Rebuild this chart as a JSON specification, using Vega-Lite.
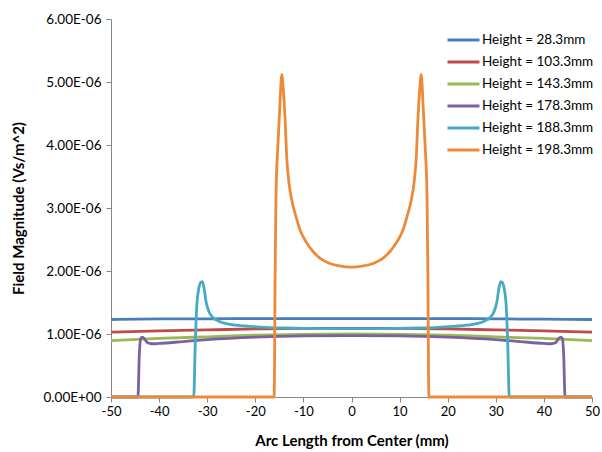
{
  "$schema": "https://vega.github.io/schema/vega-lite/v6.json",
  "width": 481,
  "height": 378,
  "autosize": {"type": "none"},
  "padding": {"left": 111, "top": 19, "right": 10, "bottom": 55},
  "background": "white",
  "config": {"view": {"stroke": null}, "font": "Lato"},
  "data": {"values": [
    {"s": "Height = 28.3mm", "x": -50, "y": 1.23e-6},
    {"s": "Height = 28.3mm", "x": -40, "y": 1.24e-6},
    {"s": "Height = 28.3mm", "x": -30, "y": 1.24e-6},
    {"s": "Height = 28.3mm", "x": -20, "y": 1.245e-6},
    {"s": "Height = 28.3mm", "x": -10, "y": 1.245e-6},
    {"s": "Height = 28.3mm", "x": 0, "y": 1.245e-6},
    {"s": "Height = 28.3mm", "x": 10, "y": 1.245e-6},
    {"s": "Height = 28.3mm", "x": 20, "y": 1.245e-6},
    {"s": "Height = 28.3mm", "x": 30, "y": 1.24e-6},
    {"s": "Height = 28.3mm", "x": 40, "y": 1.235e-6},
    {"s": "Height = 28.3mm", "x": 50, "y": 1.23e-6},

    {"s": "Height = 103.3mm", "x": -50, "y": 1.03e-6},
    {"s": "Height = 103.3mm", "x": -40, "y": 1.05e-6},
    {"s": "Height = 103.3mm", "x": -30, "y": 1.065e-6},
    {"s": "Height = 103.3mm", "x": -20, "y": 1.08e-6},
    {"s": "Height = 103.3mm", "x": -10, "y": 1.09e-6},
    {"s": "Height = 103.3mm", "x": 0, "y": 1.09e-6},
    {"s": "Height = 103.3mm", "x": 10, "y": 1.09e-6},
    {"s": "Height = 103.3mm", "x": 20, "y": 1.08e-6},
    {"s": "Height = 103.3mm", "x": 30, "y": 1.065e-6},
    {"s": "Height = 103.3mm", "x": 40, "y": 1.05e-6},
    {"s": "Height = 103.3mm", "x": 50, "y": 1.03e-6},

    {"s": "Height = 143.3mm", "x": -50, "y": 0.895e-6},
    {"s": "Height = 143.3mm", "x": -40, "y": 0.93e-6},
    {"s": "Height = 143.3mm", "x": -30, "y": 0.955e-6},
    {"s": "Height = 143.3mm", "x": -20, "y": 0.98e-6},
    {"s": "Height = 143.3mm", "x": -10, "y": 0.995e-6},
    {"s": "Height = 143.3mm", "x": 0, "y": 1.0e-6},
    {"s": "Height = 143.3mm", "x": 10, "y": 0.995e-6},
    {"s": "Height = 143.3mm", "x": 20, "y": 0.98e-6},
    {"s": "Height = 143.3mm", "x": 30, "y": 0.955e-6},
    {"s": "Height = 143.3mm", "x": 40, "y": 0.93e-6},
    {"s": "Height = 143.3mm", "x": 50, "y": 0.895e-6},

    {"s": "Height = 178.3mm", "x": -50, "y": 0},
    {"s": "Height = 178.3mm", "x": -44.4, "y": 0},
    {"s": "Height = 178.3mm", "x": -44.1, "y": 0.7e-6},
    {"s": "Height = 178.3mm", "x": -43.8, "y": 0.93e-6},
    {"s": "Height = 178.3mm", "x": -43.5, "y": 0.95e-6},
    {"s": "Height = 178.3mm", "x": -43.0, "y": 0.92e-6},
    {"s": "Height = 178.3mm", "x": -42.4, "y": 0.86e-6},
    {"s": "Height = 178.3mm", "x": -41.5, "y": 0.845e-6},
    {"s": "Height = 178.3mm", "x": -40, "y": 0.85e-6},
    {"s": "Height = 178.3mm", "x": -35, "y": 0.88e-6},
    {"s": "Height = 178.3mm", "x": -30, "y": 0.91e-6},
    {"s": "Height = 178.3mm", "x": -20, "y": 0.95e-6},
    {"s": "Height = 178.3mm", "x": -10, "y": 0.97e-6},
    {"s": "Height = 178.3mm", "x": 0, "y": 0.975e-6},
    {"s": "Height = 178.3mm", "x": 10, "y": 0.97e-6},
    {"s": "Height = 178.3mm", "x": 20, "y": 0.95e-6},
    {"s": "Height = 178.3mm", "x": 30, "y": 0.91e-6},
    {"s": "Height = 178.3mm", "x": 35, "y": 0.88e-6},
    {"s": "Height = 178.3mm", "x": 40, "y": 0.85e-6},
    {"s": "Height = 178.3mm", "x": 41.5, "y": 0.845e-6},
    {"s": "Height = 178.3mm", "x": 42.4, "y": 0.86e-6},
    {"s": "Height = 178.3mm", "x": 43.0, "y": 0.92e-6},
    {"s": "Height = 178.3mm", "x": 43.5, "y": 0.95e-6},
    {"s": "Height = 178.3mm", "x": 43.8, "y": 0.93e-6},
    {"s": "Height = 178.3mm", "x": 44.1, "y": 0.7e-6},
    {"s": "Height = 178.3mm", "x": 44.4, "y": 0},
    {"s": "Height = 178.3mm", "x": 50, "y": 0},

    {"s": "Height = 188.3mm", "x": -50, "y": 0},
    {"s": "Height = 188.3mm", "x": -32.8, "y": 0},
    {"s": "Height = 188.3mm", "x": -32.5, "y": 0.8e-6},
    {"s": "Height = 188.3mm", "x": -32.2, "y": 1.4e-6},
    {"s": "Height = 188.3mm", "x": -31.8, "y": 1.7e-6},
    {"s": "Height = 188.3mm", "x": -31.3, "y": 1.82e-6},
    {"s": "Height = 188.3mm", "x": -31.0, "y": 1.83e-6},
    {"s": "Height = 188.3mm", "x": -30.6, "y": 1.7e-6},
    {"s": "Height = 188.3mm", "x": -30.2, "y": 1.5e-6},
    {"s": "Height = 188.3mm", "x": -29.6, "y": 1.35e-6},
    {"s": "Height = 188.3mm", "x": -28.8, "y": 1.26e-6},
    {"s": "Height = 188.3mm", "x": -27.5, "y": 1.2e-6},
    {"s": "Height = 188.3mm", "x": -26, "y": 1.165e-6},
    {"s": "Height = 188.3mm", "x": -24, "y": 1.14e-6},
    {"s": "Height = 188.3mm", "x": -21, "y": 1.12e-6},
    {"s": "Height = 188.3mm", "x": -18, "y": 1.105e-6},
    {"s": "Height = 188.3mm", "x": -14, "y": 1.095e-6},
    {"s": "Height = 188.3mm", "x": -10, "y": 1.09e-6},
    {"s": "Height = 188.3mm", "x": -5, "y": 1.085e-6},
    {"s": "Height = 188.3mm", "x": 0, "y": 1.085e-6},
    {"s": "Height = 188.3mm", "x": 5, "y": 1.085e-6},
    {"s": "Height = 188.3mm", "x": 10, "y": 1.09e-6},
    {"s": "Height = 188.3mm", "x": 14, "y": 1.095e-6},
    {"s": "Height = 188.3mm", "x": 18, "y": 1.105e-6},
    {"s": "Height = 188.3mm", "x": 21, "y": 1.12e-6},
    {"s": "Height = 188.3mm", "x": 24, "y": 1.14e-6},
    {"s": "Height = 188.3mm", "x": 26, "y": 1.165e-6},
    {"s": "Height = 188.3mm", "x": 27.5, "y": 1.2e-6},
    {"s": "Height = 188.3mm", "x": 28.8, "y": 1.26e-6},
    {"s": "Height = 188.3mm", "x": 29.6, "y": 1.35e-6},
    {"s": "Height = 188.3mm", "x": 30.2, "y": 1.5e-6},
    {"s": "Height = 188.3mm", "x": 30.6, "y": 1.7e-6},
    {"s": "Height = 188.3mm", "x": 31.0, "y": 1.83e-6},
    {"s": "Height = 188.3mm", "x": 31.3, "y": 1.82e-6},
    {"s": "Height = 188.3mm", "x": 31.8, "y": 1.7e-6},
    {"s": "Height = 188.3mm", "x": 32.2, "y": 1.4e-6},
    {"s": "Height = 188.3mm", "x": 32.5, "y": 0.8e-6},
    {"s": "Height = 188.3mm", "x": 32.8, "y": 0},
    {"s": "Height = 188.3mm", "x": 50, "y": 0},

    {"s": "Height = 198.3mm", "x": -50, "y": 0},
    {"s": "Height = 198.3mm", "x": -16.1, "y": 0},
    {"s": "Height = 198.3mm", "x": -16.0, "y": 0.5e-6},
    {"s": "Height = 198.3mm", "x": -15.9, "y": 1.8e-6},
    {"s": "Height = 198.3mm", "x": -15.7, "y": 3.2e-6},
    {"s": "Height = 198.3mm", "x": -15.3, "y": 4.0e-6},
    {"s": "Height = 198.3mm", "x": -14.9, "y": 4.6e-6},
    {"s": "Height = 198.3mm", "x": -14.6, "y": 5.05e-6},
    {"s": "Height = 198.3mm", "x": -14.45, "y": 5.12e-6},
    {"s": "Height = 198.3mm", "x": -14.2, "y": 4.9e-6},
    {"s": "Height = 198.3mm", "x": -13.8, "y": 4.4e-6},
    {"s": "Height = 198.3mm", "x": -13.5, "y": 3.85e-6},
    {"s": "Height = 198.3mm", "x": -13.0, "y": 3.4e-6},
    {"s": "Height = 198.3mm", "x": -12.4, "y": 3.12e-6},
    {"s": "Height = 198.3mm", "x": -11.5, "y": 2.85e-6},
    {"s": "Height = 198.3mm", "x": -10.7, "y": 2.65e-6},
    {"s": "Height = 198.3mm", "x": -9.5, "y": 2.47e-6},
    {"s": "Height = 198.3mm", "x": -8.0, "y": 2.31e-6},
    {"s": "Height = 198.3mm", "x": -6.5, "y": 2.2e-6},
    {"s": "Height = 198.3mm", "x": -4.5, "y": 2.12e-6},
    {"s": "Height = 198.3mm", "x": -2.5, "y": 2.08e-6},
    {"s": "Height = 198.3mm", "x": 0, "y": 2.06e-6},
    {"s": "Height = 198.3mm", "x": 2.5, "y": 2.08e-6},
    {"s": "Height = 198.3mm", "x": 4.5, "y": 2.12e-6},
    {"s": "Height = 198.3mm", "x": 6.5, "y": 2.2e-6},
    {"s": "Height = 198.3mm", "x": 8.0, "y": 2.31e-6},
    {"s": "Height = 198.3mm", "x": 9.5, "y": 2.47e-6},
    {"s": "Height = 198.3mm", "x": 10.7, "y": 2.65e-6},
    {"s": "Height = 198.3mm", "x": 11.5, "y": 2.85e-6},
    {"s": "Height = 198.3mm", "x": 12.4, "y": 3.12e-6},
    {"s": "Height = 198.3mm", "x": 13.0, "y": 3.4e-6},
    {"s": "Height = 198.3mm", "x": 13.5, "y": 3.85e-6},
    {"s": "Height = 198.3mm", "x": 13.8, "y": 4.4e-6},
    {"s": "Height = 198.3mm", "x": 14.2, "y": 4.9e-6},
    {"s": "Height = 198.3mm", "x": 14.45, "y": 5.12e-6},
    {"s": "Height = 198.3mm", "x": 14.6, "y": 5.05e-6},
    {"s": "Height = 198.3mm", "x": 14.9, "y": 4.6e-6},
    {"s": "Height = 198.3mm", "x": 15.3, "y": 4.0e-6},
    {"s": "Height = 198.3mm", "x": 15.7, "y": 3.2e-6},
    {"s": "Height = 198.3mm", "x": 15.9, "y": 1.8e-6},
    {"s": "Height = 198.3mm", "x": 16.0, "y": 0.5e-6},
    {"s": "Height = 198.3mm", "x": 16.1, "y": 0},
    {"s": "Height = 198.3mm", "x": 50, "y": 0}
  ]},
  "mark": {"type": "line", "strokeWidth": 2.8, "interpolate": "monotone", "clip": false},
  "encoding": {
    "x": {
      "field": "x", "type": "quantitative",
      "scale": {"domain": [-50, 50], "nice": false, "zero": false},
      "axis": {
        "title": "Arc Length from Center (mm)",
        "titleFont": "Lato", "titleFontSize": 15, "titleFontWeight": "bold", "titleColor": "#000000", "titlePadding": 15,
        "values": [-50, -40, -30, -20, -10, 0, 10, 20, 30, 40, 50],
        "labelExpr": "'' + datum.value",
        "labelFontSize": 13, "labelColor": "#000000", "labelPadding": 3, "labelFlush": false,
        "grid": false, "domainColor": "#868686", "tickColor": "#868686", "tickSize": 5
      }
    },
    "y": {
      "field": "y", "type": "quantitative",
      "scale": {"domain": [0, 6e-6], "nice": false},
      "axis": {
        "title": "Field Magnitude (Vs/m^2)",
        "titleFont": "Lato", "titleFontSize": 15, "titleFontWeight": "bold", "titleColor": "#000000", "titlePadding": 17,
        "values": [0, 1e-6, 2e-6, 3e-6, 4e-6, 5e-6, 6e-6],
        "labelExpr": "replace(replace(upper(format(datum.value, '.2e')), 'E-', 'E-0'), 'E+', 'E+0')",
        "labelFontSize": 13.5, "labelColor": "#000000", "labelPadding": 5,
        "grid": false, "domainColor": "#868686", "tickColor": "#868686", "tickSize": 5
      }
    },
    "color": {
      "field": "s", "type": "nominal",
      "scale": {
        "domain": ["Height = 28.3mm", "Height = 103.3mm", "Height = 143.3mm", "Height = 178.3mm", "Height = 188.3mm", "Height = 198.3mm"],
        "range": ["#4A7EBB", "#BE4B48", "#98B954", "#7D60A0", "#46AAC5", "#EC8A3A"]
      },
      "legend": {
        "title": null, "orient": "none", "legendX": 335, "legendY": 10,
        "symbolType": "stroke", "symbolSize": 1024, "symbolStrokeWidth": 3,
        "labelFontSize": 13.5, "labelColor": "#000000", "labelOffset": 1, "labelLimit": 200,
        "clipHeight": 22, "rowPadding": 0
      }
    }
  }
}
